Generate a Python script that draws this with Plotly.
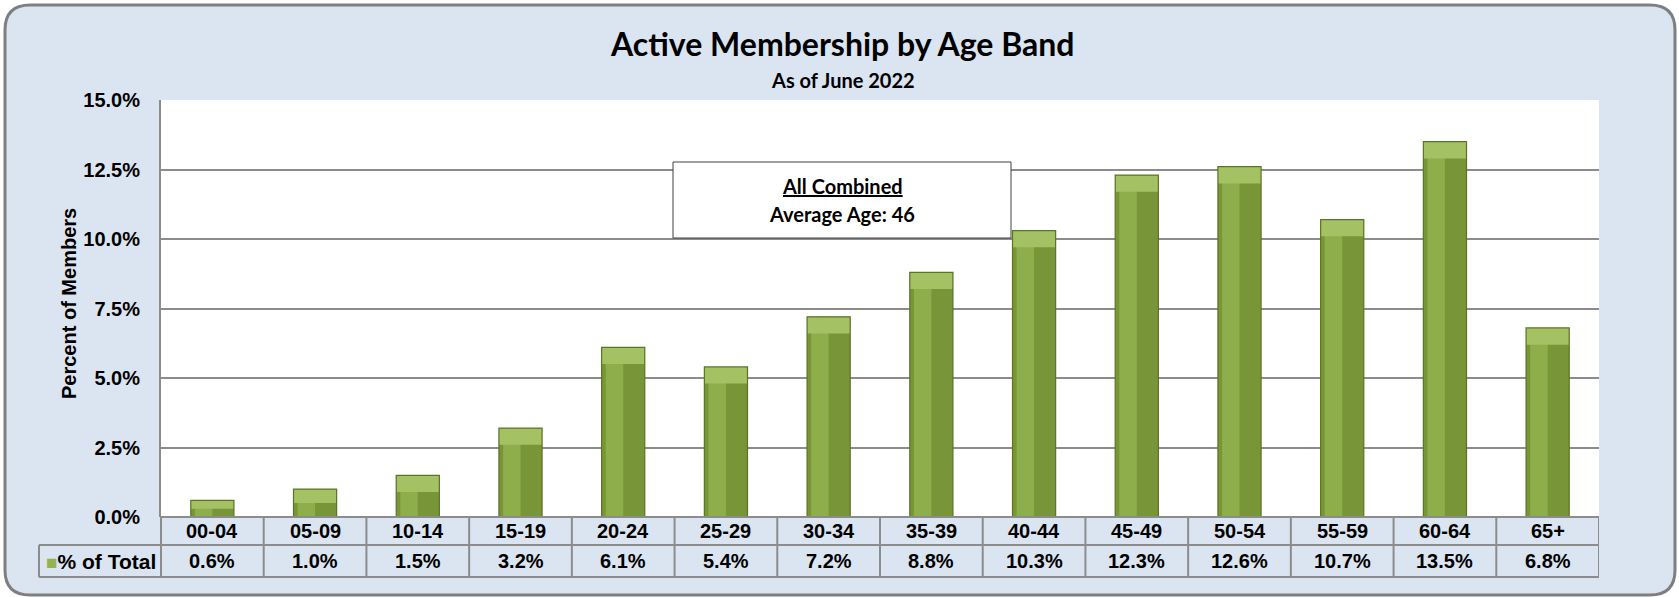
import plotly.graph_objects as go

# ---- data ----
age_bands = ["00-04", "05-09", "10-14", "15-19", "20-24", "25-29", "30-34",
             "35-39", "40-44", "45-49", "50-54", "55-59", "60-64", "65+"]
pct_of_total = [0.6, 1.0, 1.5, 3.2, 6.1, 5.4, 7.2, 8.8, 10.3, 12.3, 12.6, 10.7, 13.5, 6.8]
y_ticks = [0, 2.5, 5.0, 7.5, 10.0, 12.5, 15.0]
y_tick_labels = ["0.0%", "2.5%", "5.0%", "7.5%", "10.0%", "12.5%", "15.0%"]
series_name = "% of Total"
title_text = "Active Membership by Age Band"
subtitle_text = "As of June 2022"
box_title = "All Combined"
box_text = "Average Age: 46"

# ---- geometry (pixels) ----
W, H = 1679, 598
ML, MR, MT, MB = 161, 80, 100, 81
PW = W - ML - MR
PH = H - MT - MB


def px_x(px):
    return (px - ML) / PW


def px_y(py):
    return (H - MB - py) / PH


BG = "#DBE5F1"
GRID = "#8C8C8C"
BAR = "#789637"
BAR_LIGHT = "#94B350"
BAR_CAP = "#A4C263"
BAR_EDGE = "#5A7425"
TXT_FONT = "Liberation Sans, Arial, sans-serif"
CAL_FONT = "Lato, Open Sans, sans-serif"

fig = go.Figure()

fig.add_trace(go.Bar(
    x=age_bands, y=pct_of_total, name=series_name,
    marker=dict(color=BAR, line=dict(width=0)),
    width=0.42, hoverinfo="x+y",
))
fig.add_trace(go.Bar(
    x=age_bands, y=pct_of_total, name=series_name,
    marker=dict(color=BAR_LIGHT, line=dict(width=0)),
    width=0.17, offset=-0.17, hoverinfo="skip", opacity=0.8,
))
cap = [min(0.6, v * 0.5) for v in pct_of_total]
fig.add_trace(go.Bar(
    x=age_bands, y=cap, base=[v - c for v, c in zip(pct_of_total, cap)],
    name=series_name,
    marker=dict(color=BAR_CAP, line=dict(width=0)),
    width=0.42, hoverinfo="skip",
))
fig.add_trace(go.Bar(
    x=age_bands, y=pct_of_total, name=series_name,
    marker=dict(color="rgba(0,0,0,0)", line=dict(color=BAR_EDGE, width=1.2)),
    width=0.42, hoverinfo="skip",
))

shapes = []
# outer rounded frame
x0, x1 = px_x(5), px_x(1675)
y0, y1 = px_y(595), px_y(5)
rx, ry = 25 / PW, 25 / PH
path = (f"M {x0+rx},{y1} L {x1-rx},{y1} Q {x1},{y1} {x1},{y1-ry} "
        f"L {x1},{y0+ry} Q {x1},{y0} {x1-rx},{y0} "
        f"L {x0+rx},{y0} Q {x0},{y0} {x0},{y0+ry} "
        f"L {x0},{y1-ry} Q {x0},{y1} {x0+rx},{y1} Z")
shapes.append(dict(type="path", path=path, xref="paper", yref="paper",
                   fillcolor=BG, line=dict(color="#7F7F7F", width=3), layer="below"))
# white plot area
shapes.append(dict(type="rect", xref="paper", yref="paper", x0=0, x1=1, y0=0, y1=1,
                   fillcolor="white", line=dict(width=0), layer="below"))

# data table
row1_bot = px_y(545)
row2_bot = px_y(577)
leg_left = px_x(39)
tline = dict(color=GRID, width=2)
shapes.append(dict(type="line", xref="paper", yref="paper", x0=0, x1=1, y0=0, y1=0, line=tline))
shapes.append(dict(type="line", xref="paper", yref="paper", x0=leg_left, x1=1,
                   y0=row1_bot, y1=row1_bot, line=tline))
shapes.append(dict(type="line", xref="paper", yref="paper", x0=leg_left, x1=1,
                   y0=row2_bot, y1=row2_bot, line=tline))
shapes.append(dict(type="line", xref="paper", yref="paper", x0=leg_left, x1=leg_left,
                   y0=row2_bot, y1=row1_bot, line=tline))
shapes.append(dict(type="line", xref="paper", yref="paper", x0=0, x1=0,
                   y0=row2_bot, y1=0, line=tline))
for i in range(len(age_bands)):
    shapes.append(dict(type="line", xref="x", yref="paper", x0=i + 0.5, x1=i + 0.5,
                       y0=row2_bot, y1=0, line=tline))

# info box
shapes.append(dict(type="rect", xref="paper", yref="paper",
                   x0=px_x(673), x1=px_x(1011), y0=px_y(238), y1=px_y(162),
                   fillcolor="white", line=dict(color="#404040", width=1)))

annotations = []
bold = dict(family=TXT_FONT, size=20, color="black", weight="bold")
for band, v in zip(age_bands, pct_of_total):
    annotations.append(dict(x=band, xref="x", y=(0 + row1_bot) / 2, yref="paper",
                            text=band, showarrow=False, font=bold,
                            xanchor="center", yanchor="middle"))
    annotations.append(dict(x=band, xref="x", y=(row1_bot + row2_bot) / 2, yref="paper",
                            text=f"{v:.1f}%", showarrow=False, font=bold,
                            xanchor="center", yanchor="middle"))
annotations.append(dict(x=px_x(44), xref="paper", y=(row1_bot + row2_bot) / 2, yref="paper",
                        text=f"<span style='color:{BAR_LIGHT};font-size:19px'>■</span>{series_name}",
                        showarrow=False, font=dict(family=TXT_FONT, size=21, color="black", weight="bold"),
                        xanchor="left", yanchor="middle"))
annotations.append(dict(x=px_x(69), xref="paper", y=px_y(304), yref="paper",
                        text="Percent of Members", textangle=-90, showarrow=False,
                        font=bold, xanchor="center", yanchor="middle"))
annotations.append(dict(x=px_x(842), xref="paper", y=px_y(44), yref="paper",
                        text=title_text, showarrow=False,
                        font=dict(family=CAL_FONT, size=32, color="black", weight="bold"),
                        xanchor="center", yanchor="middle"))
annotations.append(dict(x=px_x(843), xref="paper", y=px_y(80), yref="paper",
                        text=subtitle_text, showarrow=False,
                        font=dict(family=CAL_FONT, size=20, color="black", weight="bold"),
                        xanchor="center", yanchor="middle"))
annotations.append(dict(x=px_x(842), xref="paper", y=px_y(186), yref="paper",
                        text=f"<u>{box_title}</u>", showarrow=False,
                        font=dict(family=CAL_FONT, size=20, color="black", weight="bold"),
                        xanchor="center", yanchor="middle"))
annotations.append(dict(x=px_x(842), xref="paper", y=px_y(214), yref="paper",
                        text=box_text, showarrow=False,
                        font=dict(family=CAL_FONT, size=20, color="black", weight="bold"),
                        xanchor="center", yanchor="middle"))

fig.update_layout(
    width=W, height=H,
    margin=dict(l=ML, r=MR, t=MT, b=MB, autoexpand=False),
    paper_bgcolor="white", plot_bgcolor="rgba(0,0,0,0)",
    barmode="overlay", showlegend=False,
    shapes=shapes, annotations=annotations,
    xaxis=dict(type="category", categoryarray=age_bands, categoryorder="array",
               range=[-0.5, len(age_bands) - 0.5], showticklabels=False,
               showgrid=False, zeroline=False, showline=False, fixedrange=True),
    yaxis=dict(range=[0, 15], tickvals=y_ticks, ticktext=y_tick_labels,
               tickfont=bold, showgrid=True, gridcolor=GRID, gridwidth=1.5,
               zeroline=False, showline=True, linecolor=GRID, linewidth=2,
               ticks="", ticklabelstandoff=15, fixedrange=True),
)

fig.write_html("out.html", config={"displayModeBar": False},
               post_script="document.body.style.margin='0px';document.body.style.overflow='hidden';")
